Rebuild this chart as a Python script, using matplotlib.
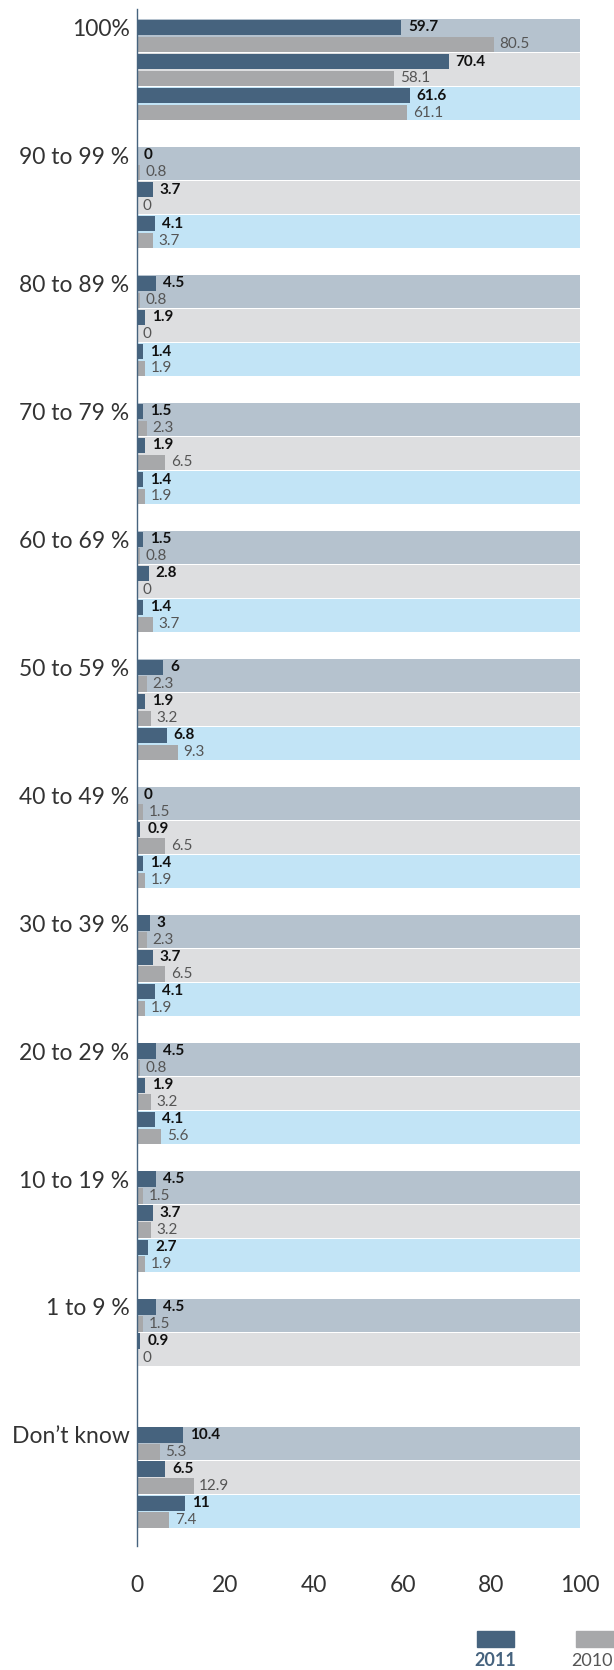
import numpy as np
import matplotlib.pyplot as plt
from matplotlib.patches import Rectangle

plt.rcParams['font.family'] = ['Lato', 'DejaVu Sans']

categories = ['100%', '90 to 99 %', '80 to 89 %', '70 to 79 %', '60 to 69 %',
              '50 to 59 %', '40 to 49 %', '30 to 39 %', '20 to 29 %',
              '10 to 19 %', '1 to 9 %', 'Don\u2019t know']

# three sub-rows per category, each with a 2011 and a 2010 value (nan = no row)
y2011_a = [59.7, 0, 4.5, 1.5, 1.5, 6, 0, 3, 4.5, 4.5, 4.5, 10.4]
y2010_a = [80.5, 0.8, 0.8, 2.3, 0.8, 2.3, 1.5, 2.3, 0.8, 1.5, 1.5, 5.3]
y2011_b = [70.4, 3.7, 1.9, 1.9, 2.8, 1.9, 0.9, 3.7, 1.9, 3.7, 0.9, 6.5]
y2010_b = [58.1, 0, 0, 6.5, 0, 3.2, 6.5, 6.5, 3.2, 3.2, 0, 12.9]
y2011_c = [61.6, 4.1, 1.4, 1.4, 1.4, 6.8, 1.4, 4.1, 4.1, 2.7, np.nan, 11]
y2010_c = [61.1, 3.7, 1.9, 1.9, 3.7, 9.3, 1.9, 1.9, 5.6, 1.9, np.nan, 7.4]

c2011 = '#46637e'
c2010 = '#a7a8aa'
row_bg = ['#b5c2ce', '#dddee0', '#c2e4f6']

rows = [(y2011_a, y2010_a), (y2011_b, y2010_b), (y2011_c, y2010_c)]

fig = plt.figure(figsize=(6.14, 16.70), dpi=100)
ax = fig.add_axes([136.5 / 614, 1 - 1546 / 1670, (580 - 136.5) / 614, (1546 - 8.5) / 1670])

group_step = 3.75
top0 = 0.31
label_pos = []
for i, cat in enumerate(categories):
    g_top = top0 + group_step * i
    label_pos.append(g_top + 0.245)
    for j, (s11, s10) in enumerate(rows):
        v11, v10 = s11[i], s10[i]
        if np.isnan(v11):
            continue
        t = g_top + j
        ax.barh(t, 100, height=0.965, align='edge', color=row_bg[j], zorder=1)
        ax.barh(t + 0.02, v11, height=0.45, align='edge', color=c2011, zorder=2)
        ax.barh(t + 0.515, v10, height=0.45, align='edge', color=c2010, zorder=2)
        ax.annotate(f'{v11:g}', (v11, t + 0.245), xytext=(5, 0), textcoords='offset points',
                    ha='left', va='center', fontsize=11, fontweight='bold', color='#111111')
        ax.annotate(f'{v10:g}', (v10, t + 0.74), xytext=(4, 0), textcoords='offset points',
                    ha='left', va='center', fontsize=11, color='#555555')

ax.set_xlim(0, 100)
ax.set_ylim(45.06, 0)
ax.set_xticks([0, 20, 40, 60, 80, 100])
ax.set_yticks(label_pos)
ax.set_yticklabels(categories)
ax.tick_params(axis='x', length=0, pad=21, labelsize=16.5, labelcolor='#333333')
ax.tick_params(axis='y', length=0, pad=5, labelsize=16.5, labelcolor='#333333')
for side in ['top', 'right', 'bottom']:
    ax.spines[side].set_visible(False)
ax.spines['left'].set_color(c2011)
ax.spines['left'].set_linewidth(1)

# legend along the bottom edge
W, H = 614, 1670
fig.patches.append(Rectangle((477 / W, 1 - 1647 / H), 37 / W, 16 / H,
                             transform=fig.transFigure, color=c2011))
fig.patches.append(Rectangle((576 / W, 1 - 1647 / H), 40 / W, 16 / H,
                             transform=fig.transFigure, color=c2010))
fig.text(495 / W, 1 - 1661 / H, '2011', ha='center', va='center', fontsize=13,
         fontweight='bold', color=c2011)
fig.text(613 / W, 1 - 1661 / H, '2010', ha='right', va='center', fontsize=13,
         color='#555555')

fig.savefig('out.png', dpi=100)
